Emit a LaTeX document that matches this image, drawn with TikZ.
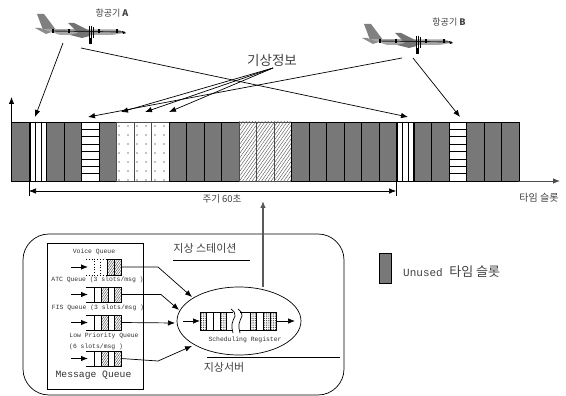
\documentclass[tikz,border=0pt]{standalone}
\usepackage{fontspec}
\setmainfont{Liberation Serif}
\setmonofont{Liberation Mono}
\newfontfamily\kr{Noto Sans CJK KR}
\usepackage{xcolor}
\usetikzlibrary{arrows.meta,positioning,calc,patterns.meta,shapes.geometric}
\definecolor{slotgray}{gray}{0.47}
\definecolor{txtgray}{gray}{0.25}

\begin{document}
\begin{tikzpicture}[x=1pt,y=-1pt,>={Latex[length=7pt,width=5.5pt]},
  slotbase/.style={draw=black,line width=0.8pt,minimum width=17.5pt,minimum height=59pt,inner sep=0pt,outer sep=0pt},
  unused/.style={slotbase,fill=slotgray},
  blank/.style={slotbase,fill=white},
  dots/.style={slotbase,draw=black!70,pattern={Dots[radius=0.65pt,distance=9pt,xshift=2pt]}},
  hatch/.style={slotbase,draw=black!70,pattern={Lines[angle=55,distance=2.6pt,line width=0.45pt]},pattern color=black!65},
  lbl/.style={inner sep=0pt,text=txtgray},
  qlbl/.style={inner sep=0pt,font=\ttfamily\fontsize{6.4}{7}\selectfont,text=black!80},
  qline/.style={line width=0.7pt},
  cellh/.style={draw=black,line width=0.6pt,pattern={Lines[angle=55,distance=1.8pt,line width=0.4pt]},pattern color=black!75},
  cellc/.style={draw=black,line width=0.5pt,pattern={Dots[radius=0.5pt,distance=1.8pt]},pattern color=black!85},
  plane/.pic={
    \fill[black!50] (37,14)--(44,14)--(56,30)--(43,30)--cycle;
    \fill[black!45] (35,28)--(40,28)--(52,32)--(46,34)--cycle;
    \fill[black!35] (43,29)--(118,29.5) to[out=0,in=180] (126,33) to[out=180,in=0] (110,35)--(60,35)--cycle;
    \fill[black!55] (68,23)--(74,23)--(90,31)--(90,36)--(82,38)--(70,35)--(78,33)--cycle;
    \draw[line width=0.9pt,black!85] (52,31)--(125,32);
    \foreach \wx in {53,69,99,117} \draw[line width=1.1pt] (\wx,29)--(\wx,33);
    \draw[line width=0.7pt] (89,26)--(89,38) (91,26)--(91,42) (93,27)--(93,38);
    \fill (89,38) rectangle (92,44);
    \fill (122,31)--(126,33)--(123,34)--cycle;
  }]
\useasboundingbox (0,0) rectangle (566,396);

\foreach \n/\st in {0/unused,1/blank,2/unused,3/unused,4/blank,5/unused,6/dots,7/dots,8/dots,
  9/unused,10/unused,11/unused,12/unused,13/hatch,14/hatch,15/hatch,16/unused,17/unused,18/unused,
  19/unused,20/unused,21/unused,22/blank,23/unused,24/unused,25/blank,26/unused,27/unused,28/unused}
  \node[\st] (s\n) at ({20.25+17.5*\n},151.5) {};

\foreach \sn in {1,22} {
  \draw[line width=1.3pt] ($(s\sn.north west)+(1,0)$)--($(s\sn.south west)+(1,0)$);
  \draw[line width=0.7pt] ($(s\sn.north west)+(6,0)$)--($(s\sn.south west)+(6,0)$);
  \draw[line width=0.7pt] ($(s\sn.north west)+(12,0)$)--($(s\sn.south west)+(12,0)$);
  \draw[line width=1.3pt] (s\sn.north east)--(s\sn.south east);
}
\foreach \sn in {4,25}
  \foreach \k in {1,...,7}
    \draw[line width=0.7pt] ($(s\sn.north west)+(0,{\k*7.4})$)--($(s\sn.north east)+(0,{\k*7.4})$);

\coordinate (ytop) at (11.5,97);
\coordinate (xend) at (560,181);
\draw[->,line width=0.8pt] (s0.north west)--(ytop);
\draw[->,line width=0.8pt,black!70] (s28.south east)--(xend);

\coordinate (t0a) at (29,181);
\coordinate (t0b) at (29,196);
\coordinate (t1a) at (396,181);
\coordinate (t1b) at (396,196);
\coordinate (p0) at (29,191);
\coordinate (p1) at (396,191);
\draw[line width=0.6pt] (t0a)--(t0b);
\draw[line width=0.6pt] (t1a)--(t1b);
\draw[<->,line width=0.6pt] (p0)--(p1);
\node[lbl,font=\kr\fontsize{9.5}{10}\selectfont] (period) at (222,199) {주기 60초};
\node[lbl,font=\kr\fontsize{10}{11}\selectfont] (tslot) at (539,198) {타임 슬롯};

\pic (planeA) at (0,0) {plane};
\pic (planeB) at (327,10) {plane};
\node[lbl,font=\kr\fontsize{9}{10}\selectfont] (nameA) at (112,13) {항공기 \textbf{A}};
\node[lbl,font=\kr\fontsize{9}{10}\selectfont] (nameB) at (449,22) {항공기 \textbf{B}};
\node[lbl,font=\kr\fontsize{13.5}{14}\selectfont] (wx) at (272,60) {기상정보};

\coordinate (a0) at (63,43);
\coordinate (a1) at (35,117);
\coordinate (a2) at (81,48);
\coordinate (a3) at (408,117);
\coordinate (b0) at (402,58);
\coordinate (b1) at (88,117);
\coordinate (b2) at (413,58);
\coordinate (b3) at (460,117);
\coordinate (w0) at (273,68);
\coordinate (w1) at (121,112);
\coordinate (w2) at (145,112);
\coordinate (w3) at (169,112);
\draw[->,line width=0.7pt] (a0)--(a1);
\draw[->,line width=0.7pt] (a2)--(a3);
\draw[->,line width=0.7pt] (b0)--(b1);
\draw[->,line width=0.7pt] (b2)--(b3);
\draw[->,line width=0.7pt] (w0)--(w1);
\draw[->,line width=0.7pt] (w0)--(w2);
\draw[->,line width=0.7pt] (w0)--(w3);

\node[draw,rounded corners=26pt,line width=0.7pt,minimum width=321pt,minimum height=161pt,inner sep=0pt] (station) at (183.5,314.5) {};
\node[draw,line width=0.7pt,minimum width=96pt,minimum height=146pt,inner sep=0pt] (mq) at (95,316) {};
\node[lbl,font=\kr\fontsize{11}{12}\selectfont] (stname) at (205,248) {지상 스테이션};
\node[lbl,font=\kr\fontsize{11}{12}\selectfont] (srvname) at (224,367) {지상서버};
\coordinate (st0) at (173,260);
\coordinate (st1) at (250,260);
\coordinate (sv0) at (207,357);
\coordinate (sv1) at (340,357);
\draw[line width=0.7pt] (st0)--(st1);
\draw[line width=0.7pt] (sv0)--(sv1);

\node[qlbl] (qv) at (94,252) {Voice Queue};
\node[qlbl] (qa) at (97.5,280) {ATC Queue (3 slots/msg )};
\node[qlbl] (qf) at (98,308) {FIS Queue (3 slots/msg )};
\node[qlbl] (ql) at (104,336) {Low Priority Queue};
\node[qlbl,anchor=west] (ql2) at (69,346.5) {(6 slots/msg )};
\node[inner sep=0pt,font=\ttfamily\fontsize{9.7}{10}\selectfont,text=black!80] (mqname) at (93.5,375) {Message Queue};

\draw[dotted,line width=0.8pt] (86,259)--(107,259) (86,275)--(107,275) (94,261)--(94,273) (100.5,259)--(100.5,275);
\draw[cellh] (107,259) rectangle (114,275);
\draw[cellh] (114,259) rectangle (121,275);
\foreach \qy in {287,315,351} {
  \draw[qline] (86,\qy)--(94,\qy) (86,\qy+15)--(94,\qy+15);
  \draw[qline] (94,\qy) rectangle (101,\qy+15);
  \draw[cellh] (101,\qy) rectangle (108,\qy+15);
  \draw[qline] (108,\qy) rectangle (114,\qy+15);
  \draw[cellh] (114,\qy) rectangle (121,\qy+15);
}
\foreach \qn/\qy in {v/267,a/294.5,f/322.5,l/358.5} {
  \coordinate (in\qn) at (71,\qy);
  \coordinate (qe\qn) at (88,\qy);
  \coordinate (out\qn) at (121,\qy);
  \draw[->,line width=0.8pt] (in\qn)--(qe\qn);
}

\node[draw,ellipse,line width=0.7pt,minimum width=124pt,minimum height=68pt,inner sep=0pt] (sched) at (239,321) {};
\node[qlbl] (schedname) at (245,339.5) {Scheduling Register};
\coordinate (hv) at (192,297);
\coordinate (ha) at (179,310);
\coordinate (hf) at (175,323);
\coordinate (hl) at (192,346);
\draw[->,qline] (outv)--(158,267)--(hv);
\draw[->,qline] (outa)--(161,294.5)--(ha);
\draw[->,qline] (outf)--(hf);
\draw[->,qline] (outl)--(158,361)--(hl);

\foreach \cx/\cs in {200/cellc,206.7/qline,213.3/qline,220/cellc}
  \draw[\cs] (\cx,312) rectangle ++(6.7,18);
\foreach \cx/\cs in {250/cellc,256.7/qline,263.3/cellc,270/cellc}
  \draw[\cs] (\cx,312) rectangle ++(6.7,18);
\draw[qline] (226.7,312)--(233,312) (226.7,330)--(233,330) (240,312)--(250,312) (240,330)--(250,330);
\draw[qline] (231,309) to[out=-40,in=70] (235,316) to[out=-110,in=80] (232,324) to[out=-100,in=100] (233,333);
\draw[qline] (238,309) to[out=-40,in=70] (242,316) to[out=-110,in=80] (239,324) to[out=-100,in=100] (240,333);
\coordinate (rin) at (183,321);
\coordinate (rs) at (200,321);
\coordinate (re) at (277,321);
\coordinate (rout) at (295,321);
\draw[->,qline] (rin)--(rs);
\draw[->,qline] (re)--(rout);

\coordinate (up0) at (263,287);
\coordinate (up1) at (263,201);
\draw[->,line width=1.2pt,black!65] (up0)--(up1);

\node[draw,fill=slotgray,line width=0.8pt,minimum width=12pt,minimum height=30pt,inner sep=0pt] (legend) at (385.5,268.5) {};
\node[lbl,anchor=west,font=\ttfamily\fontsize{11}{12}\selectfont] (legendtxt) at (403,272) {Unused {\kr\fontsize{13}{14}\selectfont 타임 슬롯}};
\end{tikzpicture}
\end{document}
